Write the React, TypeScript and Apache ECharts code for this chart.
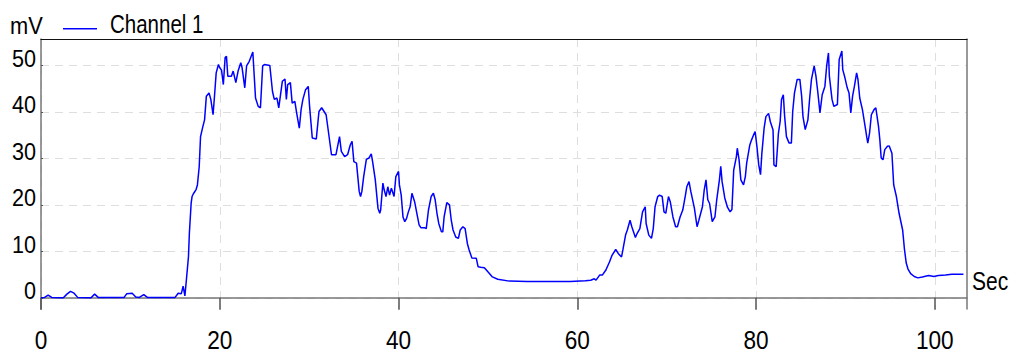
import React, { useEffect, useRef } from "react";
import * as echarts from "echarts";

// Channel 1 readings: [time in seconds, millivolts]
const channel1Samples: [number, number][] = [
  [0, 0], [0.4, 0.1], [0.8, 0.6], [1.2, 0.1], [2.5, 0], [2.9, 0.8], [3.3, 1.4], [3.7, 1.0], [4.1, 0.1],
  [5.6, 0], [6.0, 0.8], [6.4, 0.1], [9.3, 0.1], [9.6, 0.9], [10.2, 1.0], [10.6, 0.2], [11.0, 0.1],
  [11.5, 0.7], [11.9, 0.1], [15.0, 0.1], [15.35, 1.0], [15.7, 0.9], [15.9, 2.5], [16.1, 0.4],
  [16.3, 4.6], [16.5, 8.9], [16.6, 13.9], [16.8, 20.4], [16.9, 21.8], [17.05, 22.4], [17.35, 23.3],
  [17.5, 24.3], [17.7, 28.2], [17.85, 34.7], [18.1, 36.8], [18.3, 38.3], [18.5, 43.4], [18.8, 44.1],
  [19.0, 42.7], [19.25, 39.4], [19.4, 43.1], [19.6, 48.4], [19.85, 50.2], [20.0, 49.5], [20.2, 49.0],
  [20.4, 45.9], [20.6, 51.7], [20.75, 52.0], [20.9, 47.7], [21.3, 47.7], [21.5, 48.8], [21.8, 46.3],
  [22.05, 48.8], [22.35, 50.6], [22.5, 49.5], [22.8, 45.2], [23.0, 49.9], [23.3, 50.9], [23.7, 52.9],
  [24.0, 43.0], [24.3, 41.2], [24.55, 40.9], [24.8, 49.9], [25.0, 50.2], [25.6, 50.0], [25.9, 44.4],
  [26.1, 42.7], [26.4, 43.0], [26.6, 40.9], [27.0, 46.6], [27.3, 47.1], [27.45, 42.7], [27.6, 45.9],
  [27.9, 46.3], [28.1, 41.9], [28.4, 42.3], [28.6, 39.8], [28.9, 36.5], [29.1, 40.5], [29.3, 42.7],
  [29.6, 44.8], [29.9, 45.5], [30.05, 41.2], [30.35, 34.4], [30.8, 34.2], [31.1, 40.1], [31.4, 40.9],
  [31.9, 39.4], [32.3, 33.7], [32.5, 30.8], [33.0, 30.8], [33.4, 34.7], [33.6, 31.5], [33.97, 30.4],
  [34.3, 30.8], [34.6, 32.9], [34.8, 33.7], [35.0, 29.3], [35.3, 29.0], [35.6, 22.9], [35.75, 21.8],
  [35.9, 22.9], [36.1, 26.1], [36.4, 29.8], [36.7, 30.1], [36.95, 31.0], [37.1, 29.3], [37.4, 25.4],
  [37.7, 19.3], [37.9, 18.2], [38.0, 18.9], [38.25, 24.7], [38.4, 23.2], [38.6, 21.8], [38.8, 23.9],
  [39.0, 22.1], [39.2, 23.6], [39.5, 21.8], [39.7, 26.1], [40.0, 27.2], [40.1, 24.3], [40.3, 22.1],
  [40.5, 17.4], [40.7, 16.4], [40.9, 17.1], [41.1, 18.5], [41.3, 19.6], [41.5, 22.5], [41.8, 20.7],
  [42.05, 18.2], [42.3, 15.7], [42.5, 15.1], [42.9, 15.1], [43.1, 14.9], [43.35, 18.9], [43.65, 21.8],
  [43.9, 22.5], [44.1, 21.1], [44.3, 18.2], [44.5, 16.0], [44.8, 14.2], [44.95, 14.2], [45.1, 17.4],
  [45.4, 20.5], [45.7, 20.0], [45.9, 16.7], [46.1, 14.6], [46.4, 13.1], [46.7, 12.8], [46.9, 14.6],
  [47.2, 15.3], [47.45, 14.9], [47.7, 11.7], [47.9, 10.3], [48.2, 8.6], [48.7, 8.5], [48.9, 6.7],
  [49.2, 6.6], [49.6, 6.5], [50.0, 5.6], [50.5, 4.5], [51.1, 4.0], [52.4, 3.6], [54.4, 3.5],
  [59.2, 3.5], [60.9, 3.7], [61.5, 3.8], [61.9, 4.1], [62.1, 3.8], [62.5, 4.9], [62.8, 4.9],
  [63.2, 6.0], [63.6, 7.7], [63.9, 9.2], [64.3, 10.4], [64.6, 9.5], [64.95, 8.8], [65.1, 10.3],
  [65.4, 13.5], [65.6, 14.6], [65.9, 16.7], [66.1, 15.3], [66.5, 13.0], [66.7, 13.9], [67.0, 14.9],
  [67.3, 18.5], [67.6, 19.6], [67.7, 16.0], [68.0, 13.5], [68.3, 12.8], [68.5, 14.9], [68.7, 19.6],
  [69.0, 21.8], [69.2, 22.1], [69.5, 21.8], [69.7, 18.5], [69.9, 18.2], [70.2, 21.8], [70.4, 20.7],
  [70.7, 17.4], [71.0, 15.3], [71.2, 15.3], [71.5, 17.4], [71.8, 18.9], [72.1, 22.1], [72.25, 23.9],
  [72.5, 25.0], [72.7, 22.9], [73.1, 19.3], [73.4, 15.3], [73.6, 16.7], [74.0, 19.6], [74.2, 23.2],
  [74.4, 25.4], [74.6, 21.1], [74.8, 20.3], [75.1, 16.4], [75.4, 17.4], [75.6, 21.1], [75.9, 25.4],
  [76.05, 28.3], [76.2, 25.0], [76.5, 21.5], [76.8, 19.5], [77.1, 18.5], [77.3, 19.0], [77.5, 27.5],
  [77.8, 30.4], [77.9, 32.2], [78.1, 29.7], [78.3, 25.4], [78.6, 24.3], [78.8, 26.1], [78.95, 29.0],
  [79.3, 32.9], [79.5, 34.0], [79.8, 35.4], [79.9, 35.8], [80.1, 32.5], [80.3, 28.6], [80.5, 26.5],
  [80.65, 31.1], [80.9, 36.5], [81.1, 39.0], [81.4, 39.7], [81.6, 37.9], [81.9, 36.1], [82.0, 28.6],
  [82.25, 28.2], [82.5, 35.4], [82.7, 38.0], [82.85, 42.7], [83.05, 43.7], [83.2, 39.0], [83.4, 34.7],
  [83.7, 33.3], [83.95, 33.3], [84.1, 40.1], [84.3, 44.1], [84.6, 47.0], [84.9, 47.0], [85.1, 43.4],
  [85.25, 39.0], [85.5, 36.2], [85.8, 38.3], [86.0, 43.0], [86.2, 47.0], [86.5, 49.9], [86.7, 47.7],
  [86.9, 44.4], [87.15, 39.8], [87.4, 43.7], [87.7, 45.5], [87.9, 49.9], [88.1, 52.7], [88.2, 47.7],
  [88.5, 42.7], [88.7, 41.2], [89.1, 41.6], [89.3, 51.3], [89.6, 53.1], [89.7, 49.1], [89.9, 47.7],
  [90.2, 45.2], [90.4, 44.1], [90.6, 39.8], [90.8, 43.4], [91.0, 45.5], [91.25, 48.4], [91.4, 47.0],
  [91.6, 43.0], [91.9, 40.5], [92.2, 36.9], [92.4, 34.4], [92.5, 33.3], [92.7, 35.5], [92.9, 39.4],
  [93.2, 40.5], [93.4, 40.9], [93.7, 36.9], [93.85, 34.0], [94.0, 30.1], [94.2, 29.7], [94.4, 31.9],
  [94.7, 32.6], [94.9, 32.7], [95.2, 31.1], [95.4, 24.3], [95.7, 21.8], [96.0, 18.2], [96.4, 14.6],
  [96.6, 10.5], [96.8, 7.5], [97.0, 6.2], [97.3, 5.2], [97.7, 4.6], [98.1, 4.3], [98.6, 4.5],
  [99.3, 4.8], [99.9, 4.6], [100.4, 4.8], [101.2, 4.9], [101.9, 5.1], [103.2, 5.1],
];

const seriesName = "Channel 1";
const xTickValues = [0, 20, 40, 60, 80, 100];
const yTickValues = [0, 10, 20, 30, 40, 50];
const yUnitLabel = "mV";
const xUnitLabel = "Sec";

const X_MIN = 0;
const X_MAX = 103.6;
const Y_MIN = -2.4;
const Y_MAX = 55.7;

const FONT = '"Liberation Sans", Arial, sans-serif';

export default function App() {
  const ref = useRef<HTMLDivElement>(null);

  useEffect(() => {
    if (!ref.current) return;
    const chart = echarts.init(ref.current, null, { renderer: "svg" });
    const dash = { color: "#dedede", width: 1, type: [8, 6] as number[] };
    chart.setOption({
      animation: false,
      backgroundColor: "#ffffff",
      grid: { left: 41, right: 42, top: 39, bottom: 42, containLabel: false },
      legend: {
        left: 58,
        top: 23,
        itemWidth: 34,
        itemHeight: 1.5,
        formatter: () => "",
        data: [{ name: seriesName, icon: "rect" }],
      },
      xAxis: [
        {
          type: "value",
          min: X_MIN,
          max: X_MAX,
          axisLine: { show: true, lineStyle: { color: "#777", width: 1.5 } },
          axisTick: { show: true, length: 12, lineStyle: { color: "#555", width: 1.5 }, customValues: xTickValues },
          axisLabel: { show: false, customValues: xTickValues },
          splitLine: { show: true, lineStyle: dash },
        },
        {
          type: "value",
          position: "top",
          min: X_MIN,
          max: X_MAX,
          axisLine: { show: true, onZero: false, lineStyle: { color: "#111", width: 1.2 } },
          axisTick: { show: false },
          axisLabel: { show: false },
          splitLine: { show: false },
        },
      ],
      yAxis: [
        {
          type: "value",
          min: Y_MIN,
          max: Y_MAX,
          axisLine: { show: true, onZero: false, lineStyle: { color: "#777", width: 1.5 } },
          axisTick: { show: true, inside: true, length: 2, lineStyle: { color: "#555" }, customValues: yTickValues },
          axisLabel: { show: false, customValues: yTickValues },
          splitLine: { show: true, lineStyle: dash },
        },
        {
          type: "value",
          position: "right",
          min: Y_MIN,
          max: Y_MAX,
          axisLine: { show: true, onZero: false, lineStyle: { color: "#777", width: 1.5 } },
          axisTick: { show: false },
          axisLabel: { show: false },
          splitLine: { show: false },
        },
      ],
      series: [
        {
          name: seriesName,
          type: "line",
          xAxisIndex: 0,
          yAxisIndex: 0,
          data: channel1Samples,
          symbol: "none",
          lineStyle: { color: "#0000ff", width: 1.5 },
          itemStyle: { color: "#0000ff" },
        },
      ],
    });

    // Labels in a condensed face (scaled horizontally), positioned through the axes' own scales.
    const txt = (text: string, size: number, align: string, verticalAlign: string) => ({
      text,
      fontFamily: FONT,
      fontSize: size,
      lineHeight: 18,
      fill: "#000",
      align,
      verticalAlign,
    });
    const xLabels = xTickValues.map((v) => {
      const p = chart.convertToPixel({ xAxisIndex: 0, yAxisIndex: 0 }, [v, Y_MIN]) as number[];
      return { type: "text", x: p[0], y: p[1] + 31, scaleX: 0.87, style: txt(String(v), 26, "center", "middle") };
    });
    const yLabels = yTickValues.map((v) => {
      const p = chart.convertToPixel({ xAxisIndex: 0, yAxisIndex: 0 }, [X_MIN, v]) as number[];
      return { type: "text", x: p[0] - 5, y: p[1] - 7, scaleX: 0.9, style: txt(String(v), 24, "right", "middle") };
    });
    const corner = chart.convertToPixel({ xAxisIndex: 0, yAxisIndex: 0 }, [X_MIN, Y_MAX]) as number[];
    const endRight = chart.convertToPixel({ xAxisIndex: 0, yAxisIndex: 0 }, [X_MAX, Y_MIN]) as number[];

    chart.setOption({
      graphic: [
        ...xLabels,
        ...yLabels,
        { type: "text", x: corner[0] - 31, y: corner[1] - 13, scaleX: 0.95, style: txt(yUnitLabel, 23, "left", "middle") },
        { type: "text", x: corner[0] + 69, y: corner[1] - 15, scaleX: 0.82, style: txt(seriesName, 25, "left", "middle") },
        { type: "text", x: endRight[0] + 5, y: endRight[1] - 28, scaleX: 0.84, style: txt(xUnitLabel, 25, "left", "middle") },
      ],
    });
    return () => chart.dispose();
  }, []);

  return (
    <div
      ref={ref}
      style={{ position: "fixed", left: 0, top: 0, width: 1009, height: 351, background: "#fff" }}
    />
  );
}
